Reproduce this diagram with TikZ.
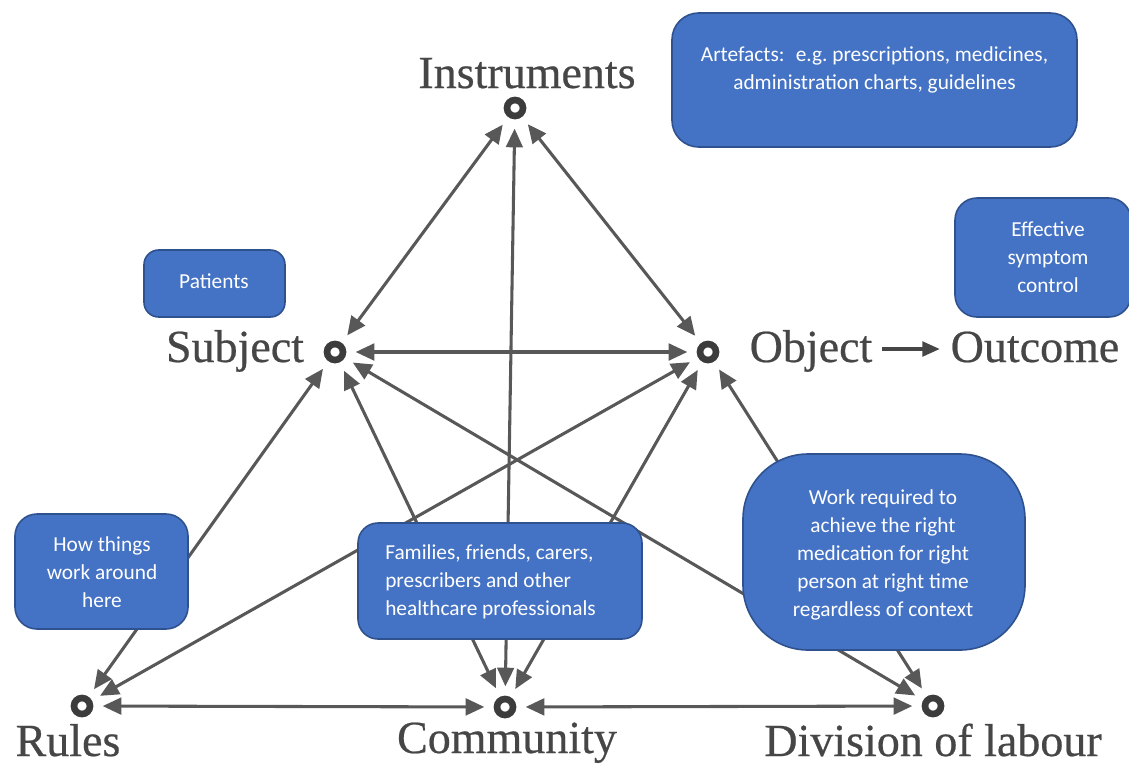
\documentclass[tikz,border=0pt]{standalone}
\usepackage{fontspec}
\newfontfamily\boxfont{Carlito}
\newfontfamily\labelserif[FakeBold=0.5]{Liberation Serif}
\usetikzlibrary{arrows.meta}
\definecolor{boxblue}{RGB}{68,114,196}
\definecolor{boxedge}{RGB}{47,82,143}
\definecolor{linkgray}{RGB}{88,88,88}
\definecolor{ringgray}{RGB}{60,60,60}
\definecolor{labelgray}{RGB}{70,70,70}
\begin{document}
\begin{tikzpicture}[x=0.75pt,y=-0.75pt,
  ring/.style={circle, draw=ringgray, line width=5pt, minimum size=12pt, inner sep=0pt},
  link/.style={draw=linkgray, line width=2.3pt,
    {Triangle[length=14pt,width=12.5pt]}-{Triangle[length=14pt,width=12.5pt]},
    shorten <=7pt, shorten >=7pt},
  term/.style={font=\labelserif\fontsize{34.5}{40}\selectfont, text=labelgray, inner sep=0pt, anchor=base},
  card/.style={draw=boxedge, fill=boxblue, line width=1.2pt, inner sep=0pt},
  cardtext/.style={font=\boxfont\fontsize{16}{21}\selectfont, text=white, align=center, inner sep=0pt},
]
\useasboundingbox (0,0) rectangle (1129,765);
\clip (0,0) rectangle (1129,765);

% activity system vertices
\node[ring] (ins) at (515,108) {};
\node[ring] (sub) at (335,352) {};
\node[ring] (obj) at (708,352) {};
\node[ring] (rul) at (82,706) {};
\node[ring] (com) at (505,707) {};
\node[ring] (div) at (933,706) {};

% vertex names
\node[term] (inslab) at (527,88) {Instruments};
\node[term] (sublab) at (235,362) {Subject};
\node[term] (objlab) at (811,362) {Object};
\node[term] (outlab) at (1035,362) {Outcome};
\node[term] (rullab) at (68,756) {Rules};
\node[term] (comlab) at (507,753) {Community};
\node[term] (divlab) at (933,756) {Division of labour};

% object leads to outcome
\draw[draw=labelgray, line width=2.3pt, -{Triangle[length=13pt,width=11pt]},
      shorten <=7pt, shorten >=8pt]
  ([yshift=9.75pt]objlab.base east) -- ([yshift=9.75pt]outlab.base west);

% mediating relations
\draw[link] (sub) -- (ins);
\draw[link] (obj) -- (ins);
\draw[link] (com) -- (ins);
\draw[link] (sub) -- (obj);
\draw[link] (rul) -- (sub);
\draw[link] (rul) -- (obj);
\draw[link] (com) -- (sub);
\draw[link] (com) -- (obj);
\draw[link] (div) -- (sub);
\draw[link] (div) -- (obj);
\draw[link] (rul) -- (com);
\draw[link] (com) -- (div);

% annotation boxes
\node[card, minimum width=303.75pt, minimum height=100.5pt, rounded corners=20pt] (artefacts) at (874.5,80) {};
\node[cardtext] (artefactstxt) at (874.5,70) {Artefacts:~ e.g.\ prescriptions, medicines,\\administration charts, guidelines};

\node[card, minimum width=132pt, minimum height=89.25pt, rounded corners=16.5pt] (effective) at (1043,257.5) {};
\node[cardtext] (effectivetxt) at (1048,257.5) {Effective\\symptom\\control};

\node[card, minimum width=105.75pt, minimum height=50.25pt, rounded corners=11pt] (patients) at (214.5,283.5) {};
\node[cardtext] (patientstxt) at (214,281) {Patients};

\node[card, minimum width=129.75pt, minimum height=86.25pt, rounded corners=16.5pt] (howthings) at (101.5,571.5) {};
\node[cardtext] (howthingstxt) at (102,572) {How things\\work around\\here};

\node[card, minimum width=213pt, minimum height=87pt, rounded corners=15pt] (families) at (500,581) {};
\node[cardtext, align=left, anchor=west] (familiestxt) at (385,582) {Families, friends, carers,\\prescribers and other\\healthcare professionals};

\node[card, minimum width=211.5pt, minimum height=147pt, rounded corners=48.75pt] (work) at (884,552) {};
\node[cardtext] (worktxt) at (883,555) {Work required to\\achieve the right\\medication for right\\person at right time\\regardless of context};
\end{tikzpicture}
\end{document}
